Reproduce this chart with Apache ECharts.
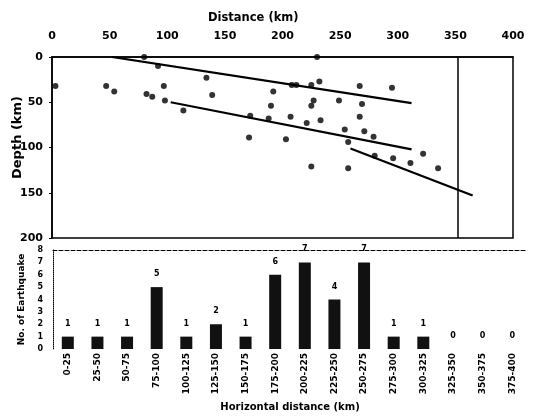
<!DOCTYPE html>
<html><head><meta charset="utf-8">
<script src="https://cdn.jsdelivr.net/npm/echarts@6/dist/echarts.min.js"></script>
<style>html,body{margin:0;padding:0;background:#fff}#c{width:546px;height:419px}</style>
</head><body><div id="c"></div>
<script>
// Top panel: earthquake hypocentres (distance km, depth km)
var quakeDistance = [3, 47, 54, 80, 82, 87, 92, 97, 98, 114, 134, 139, 171, 172, 188, 190, 192, 203, 207, 208, 212, 221, 225, 225, 227, 230, 232, 233, 225, 249, 254, 257, 257, 267, 267, 269, 271, 279, 280, 295, 296, 311, 322, 335];
var quakeDepth    = [32, 32, 38, 0, 41, 44, 10, 32, 48, 59, 23, 42, 89, 65, 68, 54, 38, 91, 66, 31, 31, 73, 31, 54, 48, 0, 27, 70, 121, 48, 80, 94, 123, 32, 66, 52, 82, 88, 109, 34, 112, 117, 107, 123];
// Trend lines (start / end)
var line1Dist = [52, 312], line1Depth = [0, 51];
var line2Dist = [103, 312], line2Depth = [50, 102];
var line3Dist = [259, 365], line3Depth = [101, 153];
var boundaryDistance = 352;
var distanceTicks = [0, 50, 100, 150, 200, 250, 300, 350, 400];
var depthTicks = [0, 50, 100, 150, 200];
// Bottom panel: histogram
var binLabels = ['0-25','25-50','50-75','75-100','100-125','125-150','150-175','175-200','200-225','225-250','250-275','275-300','300-325','325-350','350-375','375-400'];
var binCounts = [1, 1, 1, 5, 1, 2, 1, 6, 7, 4, 7, 1, 1, 0, 0, 0];
var countTicks = [0, 1, 2, 3, 4, 5, 6, 7, 8];

function pairs(a, b) { return a.map(function (v, i) { return [v, b[i]]; }); }
var FONT = '"DejaVu Sans", sans-serif';
var chart = echarts.init(document.getElementById('c'), null, {renderer: 'canvas'});
var lineStyle = {color: '#000', width: 2.2};
chart.setOption({
  animation: false,
  backgroundColor: '#fff',
  title: {text: 'Distance (km)', left: 203, top: 7, textStyle: {fontFamily: FONT, fontWeight: 'bold', fontSize: 11.5, color: '#000'}},
  grid: [
    {left: 52, right: 33, top: 57, bottom: 181, show: true, borderColor: '#000', borderWidth: 1.5, outerBoundsMode: 'none', containLabel: false},
    {left: 53, right: 19, top: 250, bottom: 70, outerBoundsMode: 'none', containLabel: false}
  ],
  xAxis: [
    {gridIndex: 0, type: 'value', position: 'top', min: distanceTicks[0], max: distanceTicks[distanceTicks.length - 1], interval: 50,
     axisLine: {lineStyle: {color: '#000', width: 1.5}}, axisTick: {show: false}, splitLine: {show: false},
     axisLabel: {fontFamily: FONT, fontWeight: 'bold', fontSize: 11, color: '#000', margin: 15}},
    {gridIndex: 1, type: 'category', data: binLabels,
     axisLine: {show: false}, axisTick: {show: false},
     axisLabel: {rotate: 90, interval: 0, fontFamily: FONT, fontWeight: 'bold', fontSize: 9, color: '#000', margin: 4},
     name: 'Horizontal distance (km)', nameLocation: 'middle', nameGap: 53, nameMoveOverlap: false,
     nameTextStyle: {fontFamily: FONT, fontWeight: 'bold', fontSize: 10, color: '#000'}},
    {gridIndex: 1, type: 'category', data: binLabels, position: 'top',
     axisLine: {show: true, lineStyle: {color: '#000', width: 1, type: 'dashed'}}, axisTick: {show: false}, axisLabel: {show: false}}
  ],
  yAxis: [
    {gridIndex: 0, type: 'value', inverse: true, min: depthTicks[0], max: depthTicks[depthTicks.length - 1], interval: 50,
     axisLine: {lineStyle: {color: '#000', width: 1.5}}, axisTick: {show: true, length: 3, lineStyle: {color: '#000'}}, splitLine: {show: false},
     axisLabel: {fontFamily: FONT, fontWeight: 'bold', fontSize: 11, color: '#000', margin: 9},
     name: 'Depth (km)', nameLocation: 'middle', nameGap: 28, nameMoveOverlap: false,
     nameTextStyle: {fontFamily: FONT, fontWeight: 'bold', fontSize: 13, color: '#000', padding: [0, 0, 0, 20]}},
    {gridIndex: 1, type: 'value', min: countTicks[0], max: countTicks[countTicks.length - 1], interval: 1,
     axisLine: {show: true, lineStyle: {color: '#000', width: 1, type: 'dotted'}}, axisTick: {show: false}, splitLine: {show: false},
     axisLabel: {fontFamily: FONT, fontWeight: 'bold', fontSize: 8, color: '#000', margin: 10},
     name: 'No. of Earthquake', nameLocation: 'middle', nameGap: 27, nameMoveOverlap: false,
     nameTextStyle: {fontFamily: FONT, fontWeight: 'bold', fontSize: 9, color: '#000'}}
  ],
  series: [
    {type: 'scatter', xAxisIndex: 0, yAxisIndex: 0, data: pairs(quakeDistance, quakeDepth), symbolSize: 6, itemStyle: {color: '#000'}, z: 5,
     markLine: {symbol: 'none', silent: true, label: {show: false}, lineStyle: {color: '#000', width: 1.5, type: 'solid'}, data: [{xAxis: boundaryDistance}]}},
    {type: 'line', xAxisIndex: 0, yAxisIndex: 0, data: pairs(line1Dist, line1Depth), showSymbol: false, lineStyle: lineStyle},
    {type: 'line', xAxisIndex: 0, yAxisIndex: 0, data: pairs(line2Dist, line2Depth), showSymbol: false, lineStyle: lineStyle},
    {type: 'line', xAxisIndex: 0, yAxisIndex: 0, data: pairs(line3Dist, line3Depth), showSymbol: false, lineStyle: lineStyle},
    {type: 'bar', xAxisIndex: 1, yAxisIndex: 1, data: binCounts, barWidth: 12, itemStyle: {color: '#111'},
     label: {show: true, position: 'top', distance: 9, fontFamily: FONT, fontWeight: 'bold', fontSize: 8, color: '#000'}}
  ]
});
</script></body></html>
